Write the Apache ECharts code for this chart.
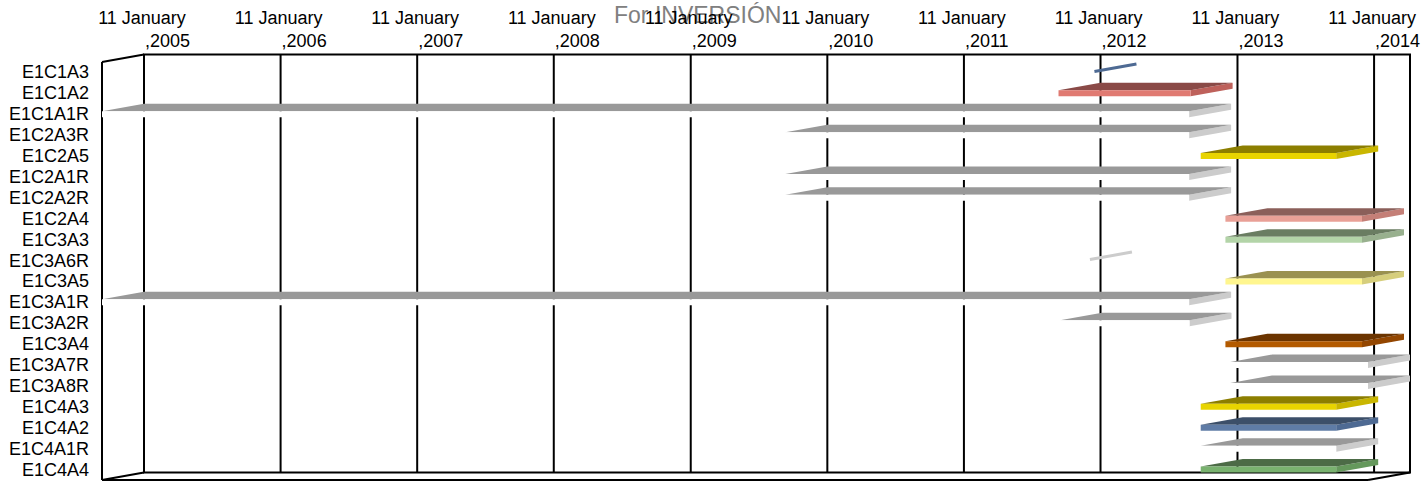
<!DOCTYPE html>
<html>
<head>
<meta charset="utf-8">
<title>For INVERSIÓN</title>
<script src="https://cdn.jsdelivr.net/npm/echarts@6/dist/echarts.min.js"></script>
<style>
html, body { margin: 0; padding: 0; background: #fff; }
#inversion-chart { width: 1426px; height: 482px; }
</style>
</head>
<body>
<div id="inversion-chart"></div>
<script>
// rows, top to bottom
const categories = [
  "E1C1A3", "E1C1A2", "E1C1A1R", "E1C2A3R", "E1C2A5", "E1C2A1R", "E1C2A2R",
  "E1C2A4", "E1C3A3", "E1C3A6R", "E1C3A5", "E1C3A1R", "E1C3A2R", "E1C3A4",
  "E1C3A7R", "E1C3A8R", "E1C4A3", "E1C4A2", "E1C4A1R", "E1C4A4"
];
const startDates = [
  "2012-04-16", "2012-01-11", "2005-01-11", "2010-01-11", "2013-01-25", "2010-01-11", "2010-01-11",
  "2013-04-01", "2013-04-01", "2012-04-04", "2013-04-01", "2005-01-11", "2012-01-15", "2013-04-01",
  "2013-04-14", "2013-04-14", "2013-01-25", "2013-01-25", "2013-01-25", "2013-01-25"
];
const endDates = [
  "2012-04-16", "2012-12-29", "2012-12-25", "2012-12-25", "2014-01-22", "2012-12-25", "2012-12-25",
  "2014-04-01", "2014-04-01", "2012-04-04", "2014-04-01", "2012-12-25", "2012-12-26", "2014-04-01",
  "2014-04-17", "2014-04-17", "2014-01-22", "2014-01-22", "2014-01-22", "2014-01-22"
];
const tickDates = [
  "2005-01-11", "2006-01-11", "2007-01-11", "2008-01-11", "2009-01-11",
  "2010-01-11", "2011-01-11", "2012-01-11", "2013-01-11", "2014-01-11"
];
const axisMin = "2005-01-11";
const axisMax = "2014-04-17";

// colour of each row (front face, top face, right side face)
const palettes = {
  grey:   { front: "#ffffff", top: "#999999", side: "#cccccc" },
  red:    { front: "#e07a72", top: "#8a4a47", side: "#be615b" },
  yellow: { front: "#e8d400", top: "#8c7e00", side: "#c9b600" },
  pink:   { front: "#e9a097", top: "#8b5f5a", side: "#c47f77" },
  sage:   { front: "#b3d4a8", top: "#6a7d62", side: "#98b08e" },
  pale:   { front: "#fff68f", top: "#9a9150", side: "#d6ce7c" },
  brown:  { front: "#b35a00", top: "#6b3400", side: "#934600" },
  blue:   { front: "#5f7ca6", top: "#3c4f69", side: "#4e6a93" },
  green:  { front: "#79b26f", top: "#4c6b46", side: "#65985c" }
};
const rowPalette = [
  "blue", "red", "grey", "grey", "yellow", "grey", "grey", "pink", "sage", "grey",
  "pale", "grey", "grey", "brown", "grey", "grey", "yellow", "blue", "grey", "green"
];

const monthNames = ["January", "February", "March", "April", "May", "June", "July",
  "August", "September", "October", "November", "December"];
const FAMILY = "'Liberation Sans', Arial, sans-serif";
const FONT = "18px " + FAMILY;
// 3d depth: back wall is shifted right and up from the front plane
const DX = 42;
const DY = -7.5;
const SLAB = 6;

const ts = s => new Date(s + "T00:00:00Z").getTime();

const barData = categories.map((c, i) => [i, ts(startDates[i]), ts(endDates[i])]);

function renderFrame(params, api) {
  const cs = params.coordSys;
  const fx0 = cs.x, fx1 = cs.x + cs.width, fy0 = cs.y, fy1 = cs.y + cs.height;
  const bx0 = fx0 + DX, bx1 = fx1 + DX, by0 = fy0 + DY, by1 = fy1 + DY;
  const st = { stroke: "#000", lineWidth: 2, fill: null };
  const seg = (x1, y1, x2, y2) => ({ type: "line", shape: { x1, y1, x2, y2 }, style: st });
  return {
    type: "group",
    children: [
      { type: "rect", shape: { x: bx0, y: by0, width: bx1 - bx0, height: by1 - by0 }, style: st },
      seg(fx0, fy0, bx0, by0),
      seg(fx0, fy0, fx0, fy1),
      seg(fx0, fy1, fx1, fy1),
      seg(fx0, fy1, bx0, by1),
      seg(fx1, fy1, bx1, by1)
    ]
  };
}

function renderTick(params, api) {
  const cs = params.coordSys;
  const x = api.coord([api.value(0), 0])[0] + DX;
  const top = cs.y + DY;
  const bottom = cs.y + cs.height + DY;
  const d = new Date(api.value(0));
  return {
    type: "group",
    children: [
      { type: "line", shape: { x1: x, y1: top, x2: x, y2: bottom }, style: { stroke: "#000", lineWidth: 2 } },
      { type: "text", x: x - 2, y: top - 36.5,
        style: { text: d.getUTCDate() + " " + monthNames[d.getUTCMonth()], font: FONT, fill: "#000", align: "center", verticalAlign: "middle" } },
      { type: "text", x: x + 1, y: top - 13.5,
        style: { text: "," + d.getUTCFullYear(), font: FONT, fill: "#000", align: "left", verticalAlign: "middle" } }
    ]
  };
}

function renderBar(params, api) {
  const i = api.value(0);
  const s = api.coord([api.value(1), i]);
  const e = api.coord([api.value(2), i]);
  const pal = palettes[rowPalette[i]];
  const x0 = s[0], x1 = e[0];
  const t = s[1] - SLAB / 2, b = s[1] + SLAB / 2;
  if (x1 - x0 < 1) {
    // zero length task: only a thin edge shows
    return {
      type: "line",
      shape: { x1: x0, y1: s[1] - 1, x2: x0 + DX, y2: s[1] - 1 + DY },
      style: { stroke: pal.side, lineWidth: 3 }
    };
  }
  return {
    type: "group",
    children: [
      { type: "polygon", shape: { points: [[x1, t], [x1 + DX, t + DY], [x1 + DX, b + DY], [x1, b]] }, style: { fill: pal.side } },
      { type: "polygon", shape: { points: [[x0, t], [x1, t], [x1 + DX, t + DY], [x0 + DX, t + DY]] }, style: { fill: pal.top } },
      { type: "rect", shape: { x: x0, y: t, width: x1 - x0, height: SLAB }, style: { fill: pal.front } }
    ]
  };
}

const chart = echarts.init(document.getElementById("inversion-chart"), null, { renderer: "svg" });

const option = {
  animation: false,
  backgroundColor: "#fff",
  title: {
    text: "For INVERSIÓN",
    left: 614,
    top: 3,
    padding: 0,
    z: 0,
    textStyle: { color: "#808080", fontSize: 23, fontWeight: "normal", fontFamily: FAMILY }
  },
  grid: { left: 102, right: 58, top: 62, bottom: 2, containLabel: false },
  xAxis: {
    type: "time",
    min: ts(axisMin),
    max: ts(axisMax),
    show: false
  },
  yAxis: {
    type: "category",
    inverse: true,
    data: categories,
    axisLine: { show: false },
    axisTick: { show: false },
    splitLine: { show: false },
    axisLabel: {
      margin: 13,
      color: "#000",
      fontSize: 18,
      fontFamily: FAMILY,
      interval: 0
    }
  },
  series: [
    { type: "custom", name: "frame", z: 1, clip: false, silent: true, renderItem: renderFrame, data: [[0]] },
    { type: "custom", name: "ticks", z: 2, clip: false, silent: true, renderItem: renderTick,
      data: tickDates.map(d => [ts(d)]), encode: { x: 0 } },
    { type: "custom", name: "tasks", z: 3, clip: false, renderItem: renderBar,
      data: barData, encode: { x: [1, 2], y: 0 } }
  ]
};

chart.setOption(option);
</script>
</body>
</html>
